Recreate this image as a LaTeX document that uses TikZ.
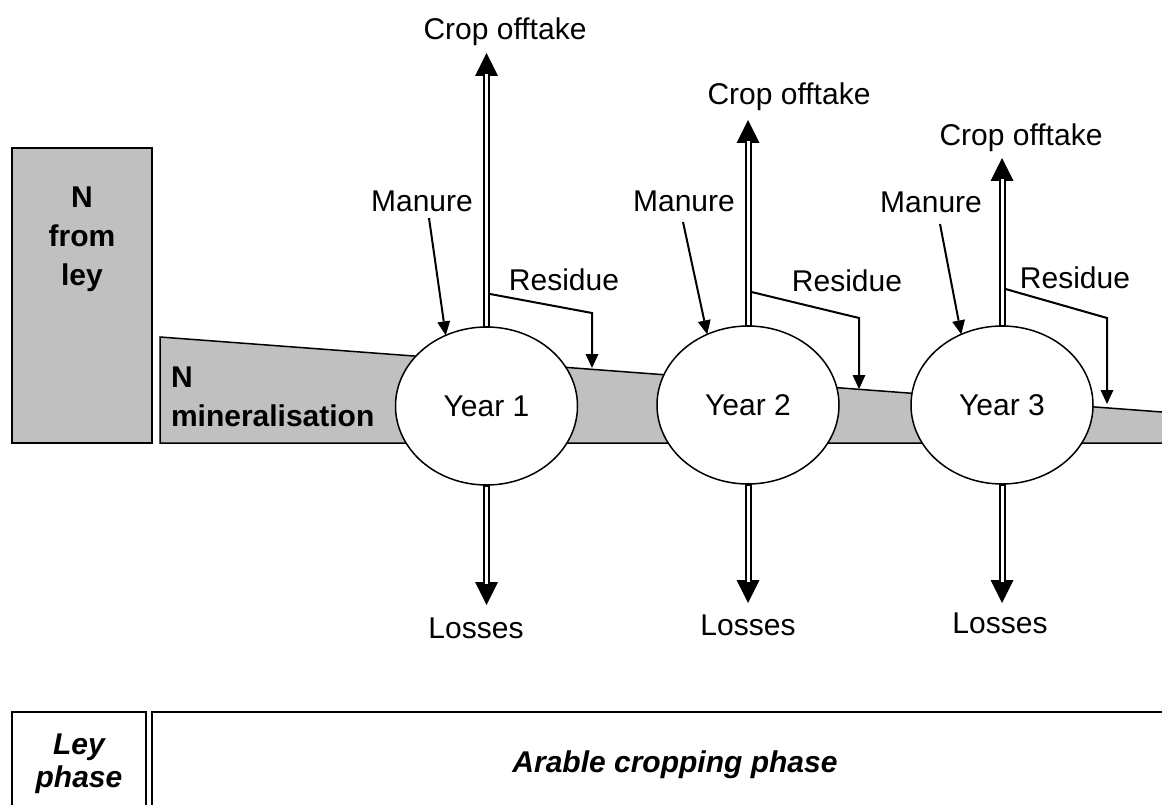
\documentclass[tikz,border=0pt]{standalone}
\usepackage{fontspec}
\setmainfont{Liberation Sans}
\usetikzlibrary{arrows.meta,shapes.geometric}
\definecolor{soilgray}{RGB}{192,192,192}
\begin{document}
\begin{tikzpicture}[x=1pt,y=-1pt,
  every node/.style={inner sep=0pt, outer sep=0pt, font=\fontsize{30}{36}\selectfont},
  yearnode/.style={ellipse, draw, line width=1.5pt, fill=white,
    minimum width=182pt, minimum height=158pt, text height=21.5pt, text depth=0pt},
  lbl/.style={anchor=base},
  boxline/.style={line width=1.5pt},
  flowarrow/.style={line width=7pt, -{Triangle[width=23pt,length=23pt,line width=0pt]}},
  flowcore/.style={draw=white, line width=3pt, shorten <=1.5pt, shorten >=21pt},
  thinarrow/.style={line width=2pt, -{Triangle[width=13pt,length=14pt,line width=0pt]}},
  thinline/.style={line width=2pt}
]
\useasboundingbox (0,0) rectangle (1162,805);

% N from ley box
\draw[boxline, fill=soilgray] (12,148) rectangle (152,443);
\node[anchor=north, align=center, font=\fontsize{30}{39}\selectfont\bfseries] (ley) at (82,186.5) {N\\from\\ley};

% N mineralisation wedge
\fill[soilgray] (160,337) -- (1162,412) -- (1162,443) -- (160,443) -- cycle;
\draw[boxline] (1162,412) -- (160,337) -- (160,443) -- (1162,443);
\node[anchor=north west, align=left, font=\fontsize{30}{39}\selectfont\bfseries] (minl) at (171,366.5) {N\\mineralisation};

% Years
\node[yearnode] (y1) at (486.5,406) {Year 1};
\node[yearnode] (y2) at (748,405) {Year 2};
\node[yearnode] (y3) at (1002,405) {Year 3};

% Labels
\node[lbl] (co1) at (505,40) {Crop offtake};
\node[lbl] (co2) at (789,105) {Crop offtake};
\node[lbl] (co3) at (1021,146) {Crop offtake};
\node[lbl] (ma1) at (422,212) {Manure};
\node[lbl] (ma2) at (684,212) {Manure};
\node[lbl] (ma3) at (931,213) {Manure};
\node[lbl] (re1) at (564,290) {Residue};
\node[lbl] (re2) at (847,291) {Residue};
\node[lbl] (re3) at (1075,288) {Residue};
\node[lbl] (lo1) at (476,638) {Losses};
\node[lbl] (lo2) at (748,635) {Losses};
\node[lbl] (lo3) at (1000,633) {Losses};

% arrow end coordinates
\coordinate (ct1) at (486.5,53);
\coordinate (ct2) at (748,120);
\coordinate (ct3) at (1002,158);
\coordinate (lt1) at (486.5,605);
\coordinate (lt2) at (748,603);
\coordinate (lt3) at (1002,603);
\coordinate (ms1) at (429,218);
\coordinate (ms2) at (683,222);
\coordinate (ms3) at (940,224);
\coordinate (rs1) at (490,294);
\coordinate (rk1) at (592,313);
\coordinate (rt1) at (592,368);
\coordinate (rs2) at (751.5,292);
\coordinate (rk2) at (859,318);
\coordinate (rt2) at (859,389);
\coordinate (rs3) at (1005.5,289);
\coordinate (rk3) at (1107,318);
\coordinate (rt3) at (1107,404);

% Crop offtake arrows
\draw[flowarrow] (y1.north) -- (ct1);
\draw[flowcore] (y1.north) -- (ct1);
\draw[flowarrow] (y2.north) -- (ct2);
\draw[flowcore] (y2.north) -- (ct2);
\draw[flowarrow] (y3.north) -- (ct3);
\draw[flowcore] (y3.north) -- (ct3);

% Losses arrows
\draw[flowarrow] (y1.south) -- (lt1);
\draw[flowcore] (y1.south) -- (lt1);
\draw[flowarrow] (y2.south) -- (lt2);
\draw[flowcore] (y2.south) -- (lt2);
\draw[flowarrow] (y3.south) -- (lt3);
\draw[flowcore] (y3.south) -- (lt3);

% Manure arrows
\draw[thinarrow] (ms1) -- (y1.120);
\draw[thinarrow] (ms2) -- (y2.120);
\draw[thinarrow] (ms3) -- (y3.120);

% Residue arrows
\draw[thinarrow, line join=miter] (rs1) -- (rk1) -- (rt1);
\draw[thinarrow, line join=miter] (rs2) -- (rk2) -- (rt2);
\draw[thinarrow, line join=miter] (rs3) -- (rk3) -- (rt3);

% Phase table
\draw[boxline] (12,815) -- (12,712) -- (146,712) -- (146,815);
\draw[boxline] (152,815) -- (152,712) -- (1170,712);
\node[anchor=north, align=center, font=\fontsize{30}{33}\selectfont\bfseries\itshape] (leyph) at (79,733.5) {Ley\\phase};
\node[lbl, font=\fontsize{30}{36}\selectfont\bfseries\itshape] (arph) at (675,772) {Arable cropping phase};
\end{tikzpicture}
\end{document}
